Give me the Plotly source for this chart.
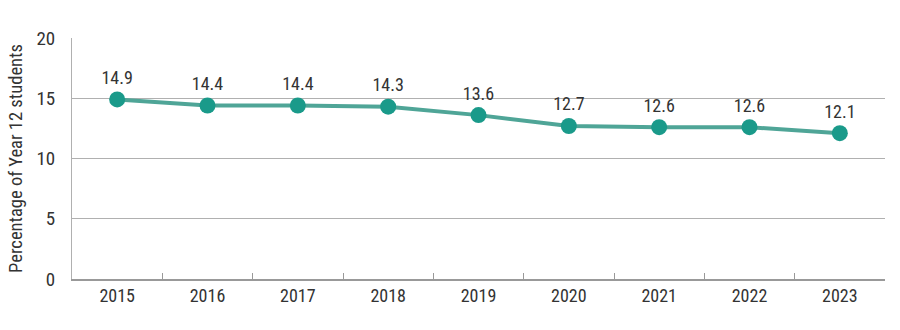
import plotly.graph_objects as go

years = ["2015", "2016", "2017", "2018", "2019", "2020", "2021", "2022", "2023"]
values = [14.9, 14.4, 14.4, 14.3, 13.6, 12.7, 12.6, 12.6, 12.1]
y_ticks = [0, 5, 10, 15, 20]

FONT = "Roboto Condensed, Liberation Sans Narrow, DejaVu Sans Condensed, sans-serif"
W = 400

fig = go.Figure()
fig.add_trace(go.Scatter(
    x=years, y=values, mode="lines+markers+text",
    line=dict(color="#4fa597", width=4),
    marker=dict(color="#1a9a8a", size=16),
    text=[f"{v:.1f}" for v in values],
    textposition="top center",
    textfont=dict(family=FONT, size=18, color="#333333", weight=W),
    cliponaxis=False,
    hoverinfo="skip",
))

fig.update_layout(
    width=900, height=330,
    margin=dict(l=72, r=15, t=38, b=51),
    paper_bgcolor="white", plot_bgcolor="white",
    showlegend=False,
    font=dict(family=FONT, size=16, color="#333333", weight=W),
)
fig.update_xaxes(
    type="category", range=[-0.5, len(years) - 0.5], autorange=False,
    tickson="boundaries", ticks="inside", ticklen=6,
    tickcolor="#999999", showline=True, linecolor="#999999", linewidth=1.5,
    showgrid=False, tickfont=dict(family=FONT, size=18, color="#333333", weight=W),
    fixedrange=True, automargin=False,
)
fig.update_yaxes(
    range=[0, 20], tickvals=y_ticks, showgrid=True, gridcolor="#b0b0b0",
    gridwidth=1, showline=True, linecolor="#b0b0b0", zeroline=False,
    ticks="", ticklabelstandoff=12,
    tickfont=dict(family=FONT, size=19, color="#333333", weight=W),
    title=dict(text="Percentage of Year 12 students",
               font=dict(family=FONT, size=18.5, color="#333333", weight=W),
               standoff=8),
    fixedrange=True, automargin=False,
)

fig.write_html("out.html")
